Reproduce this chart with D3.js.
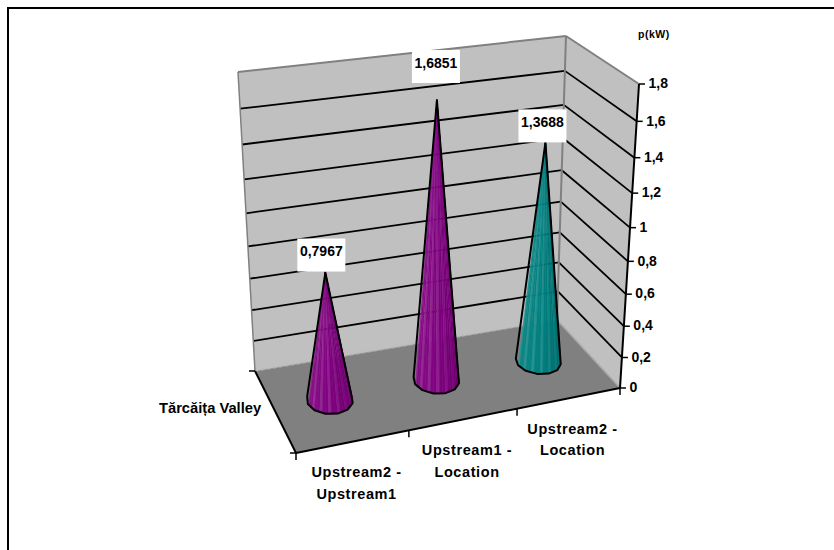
<!DOCTYPE html>
<html>
<head>
<meta charset="utf-8">
<script src="https://cdn.jsdelivr.net/npm/d3@7"></script>
<style>
	html, body { margin: 0; padding: 0; background: #fff; }
	svg { display: block; }
	text { font-family: "Liberation Sans", Arial, sans-serif; font-weight: bold; fill: #000; }
</style>
</head>
<body>
<div id="chart"></div>
<script>
var categories = ["Upstream2 - Upstream1", "Upstream1 - Location", "Upstream2 - Location"];
var values = [0.7967, 1.6851, 1.3688];
var valueLabels = ["0,7967", "1,6851", "1,3688"];
var coneColors = ["#800080", "#800080", "#008080"];
var yTicks = [0, 0.2, 0.4, 0.6, 0.8, 1, 1.2, 1.4, 1.6, 1.8];
var yTickLabels = ["0", "0,2", "0,4", "0,6", "0,8", "1", "1,2", "1,4", "1,6", "1,8"];
var seriesName = "Tărcăița Valley";
var yTitle = "p(kW)";

var width = 834, height = 550;

var svg = d3.select("#chart").append("svg")
	.attr("width", width)
	.attr("height", height);

// box corners on screen: front-left, front-right, back-right, back-left
var floorQuad = [[296, 453], [620, 388], [557, 320], [255, 371]];
var topQuad = [[278, 133], [639, 84], [566, 36], [238, 72]];

// unit square -> quad
function quadMap(q) {
	var dx1 = q[1][0] - q[2][0], dx2 = q[3][0] - q[2][0],
		dx3 = q[0][0] - q[1][0] + q[2][0] - q[3][0],
		dy1 = q[1][1] - q[2][1], dy2 = q[3][1] - q[2][1],
		dy3 = q[0][1] - q[1][1] + q[2][1] - q[3][1];
	var den = dx1 * dy2 - dx2 * dy1;
	var g = (dx3 * dy2 - dx2 * dy3) / den, h = (dx1 * dy3 - dx3 * dy1) / den;
	var a = q[1][0] - q[0][0] + g * q[1][0], b = q[3][0] - q[0][0] + h * q[3][0],
		d = q[1][1] - q[0][1] + g * q[1][1], e = q[3][1] - q[0][1] + h * q[3][1];
	return function(u, v) {
		var w = g * u + h * v + 1;
		return [(a * u + b * v + q[0][0]) / w, (d * u + e * v + q[0][1]) / w];
	};
}
var floorAt = quadMap(floorQuad), topAt = quadMap(topQuad);

var x = d3.scaleBand().domain(categories).range([0, 1]);
var y = d3.scaleLinear().domain([0, 1.8]).range([0, 1]);
// the picture's category spacing is a bit flatter than the corners give
var uWarp = d3.scaleLinear().domain([0, 1 / 3, 2 / 3, 1]).range([0, 0.321, 0.655, 1]);

// u along the categories, v front to back, t up the wall (0..1)
function project(u, v, t) {
	var f = floorAt(uWarp(u), v), c = topAt(uWarp(u), v);
	var s = t / (t + (1 - t) * 1.12);
	return [f[0] + (c[0] - f[0]) * s, f[1] + (c[1] - f[1]) * s];
}

var line = d3.line();

function addPoly(pts, fill) {
	svg.append("path").attr("d", line(pts) + "Z").attr("fill", fill).attr("stroke", "none");
}
function addLine(p, q, color, w) {
	svg.append("line")
		.attr("x1", p[0]).attr("y1", p[1])
		.attr("x2", q[0]).attr("y2", q[1])
		.attr("stroke", color).attr("stroke-width", w);
}

// chart frame, only top and left show
svg.append("path")
	.attr("d", "M8,550V8H834")
	.attr("fill", "none").attr("stroke", "#000").attr("stroke-width", 2);

// walls
addPoly([project(0, 1, 0), project(1, 1, 0), project(1, 1, 1), project(0, 1, 1)], "#c0c0c0");
addPoly([project(1, 1, 0), project(1, 0, 0), project(1, 0, 1), project(1, 1, 1)], "#c0c0c0");

yTicks.slice(1, -1).forEach(function(d) {
	var t = y(d);
	addLine(project(0, 1, t), project(1, 1, t), "#000", 1.8);
	addLine(project(1, 1, t), project(1, 0, t), "#000", 1.8);
});

addLine(project(0, 1, 0), project(0, 1, 1), "#808080", 1.5);
addLine(project(0, 1, 1), project(1, 1, 1), "#808080", 2);
addLine(project(1, 1, 1), project(1, 0, 1), "#808080", 2);
addLine(project(1, 1, 0), project(1, 1, 1), "#808080", 2);

// floor
addPoly([project(0, 0, 0), project(1, 0, 0), project(1, 1, 0), project(0, 1, 0)], "#808080");
svg.append("line")
	.attr("x1", project(0, 1, 0)[0]).attr("y1", project(0, 1, 0)[1])
	.attr("x2", project(1, 1, 0)[0]).attr("y2", project(1, 1, 0)[1])
	.attr("stroke", "#b4b4b4").attr("stroke-width", 1.5).attr("stroke-dasharray", "4,2");
addLine(project(1, 1, 0), project(1, 0, 0), "#a8a8a8", 1.5);

// axes
addLine(project(0, 1, 0), project(0, 0, 0), "#000", 2);
addLine(project(0, 0, 0), project(1, 0, 0), "#000", 2);
addLine(project(1, 0, 0), project(1, 0, 1), "#000", 2);

// value axis
yTicks.forEach(function(d, i) {
	var p = project(1, 0, y(d));
	addLine(p, [p[0] + 6, p[1]], "#000", 1.5);
	svg.append("text")
		.attr("x", p[0] + 9.5).attr("y", p[1] + 0.5)
		.attr("dominant-baseline", "middle")
		.attr("font-size", "14px")
		.text(yTickLabels[i]);
});

svg.append("text")
	.attr("x", 638).attr("y", 38)
	.attr("font-size", "10.5px").attr("letter-spacing", "0.5")
	.text(yTitle);

// category ticks and labels
d3.range(categories.length + 1).forEach(function(i) {
	var p = project(i / categories.length, 0, 0);
	addLine(p, [p[0], p[1] + 7], "#000", 1.5);
});
[0, 1].forEach(function(v) {
	var p = project(0, v, 0);
	addLine(p, [p[0] - 6, p[1]], "#000", 1.5);
});

categories.forEach(function(c, i) {
	var p = project(x(c) + x.bandwidth() / 2, 0, 0);
	var parts = c.split(" - ");
	[parts[0] + " -", parts[1]].forEach(function(s, j) {
		svg.append("text")
			.attr("x", p[0] + 3).attr("y", p[1] + 32 + j * 21.5)
			.attr("text-anchor", "middle")
			.attr("dominant-baseline", "middle")
			.attr("font-size", "14.5px").attr("letter-spacing", "0.6")
			.text(s);
	});
});

svg.append("text")
	.attr("x", 159).attr("y", 409)
	.attr("dominant-baseline", "middle")
	.attr("font-size", "14.7px")
	.text(seriesName);

// cones
var facets = 48, ru = 0.067, rv = 0.17;
var labelShift = [[-4, -1], [-1, -17], [-3, 0]];

categories.forEach(function(c, i) {
	var cu = x(c) + x.bandwidth() / 2, cv = 0.5;
	var tip = project(cu, cv, y(values[i]));
	var base = d3.range(facets).map(function(k) {
		var a = k / facets * 2 * Math.PI;
		return project(cu + ru * Math.cos(a), cv + rv * Math.sin(a), 0);
	});
	var col = d3.color(coneColors[i]);
	var shade = d3.scaleLinear().domain([0, 0.5, 1]).range([0.06, 0, -0.15]);
	var minX = d3.min(base, function(p) { return p[0]; }), maxX = d3.max(base, function(p) { return p[0]; });
	// front half of the base, left to right so the stripes show
	d3.range(facets / 2).forEach(function(k) {
		var j = (facets + facets / 2 + k) % facets;
		var j2 = (j + 1) % facets;
		var pos = (base[j][0] - minX) / (maxX - minX);
		var amt = shade(pos) + (k % 3 == 0 ? 0.12 : 0);
		var fill = amt >= 0 ? d3.interpolateRgb(col, "#fff")(amt) : d3.interpolateRgb(col, "#000")(-amt);
		svg.append("path")
			.attr("d", line([tip, base[j], base[j2]]) + "Z")
			.attr("fill", fill).attr("stroke", fill).attr("stroke-width", 0.4);
	});
	// silhouette: hull of a coarser base and the tip
	var hullPts = base.filter(function(p, k) { return k % 4 == 0; }).concat([tip]);
	var hull = d3.polygonHull(hullPts);
	svg.append("path")
		.attr("d", line(hull) + "Z")
		.attr("fill", "none").attr("stroke", "#000").attr("stroke-width", 2).attr("stroke-linejoin", "round");

	// value box
	var bw = 48, bh = 33;
	var bx = tip[0] + labelShift[i][0] - bw / 2, by = tip[1] + labelShift[i][1] - bh;
	svg.append("rect")
		.attr("x", bx).attr("y", by).attr("width", bw).attr("height", bh)
		.attr("fill", "#fff");
	svg.append("text")
		.attr("x", bx + bw / 2).attr("y", by + 14)
		.attr("text-anchor", "middle")
		.attr("dominant-baseline", "middle")
		.attr("font-size", "14px")
		.text(valueLabels[i]);
});
</script>
</body>
</html>
